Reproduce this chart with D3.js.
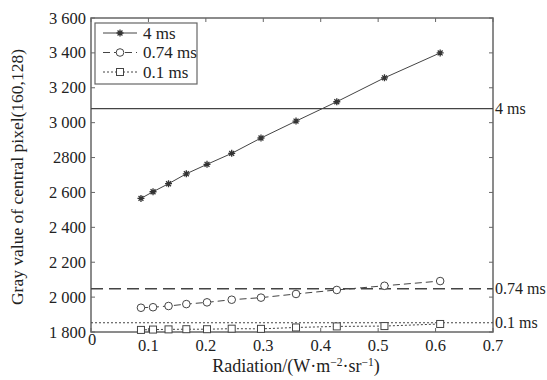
<!DOCTYPE html>
<html><head><meta charset="utf-8">
<script src="https://cdn.jsdelivr.net/npm/d3@7"></script>
<style>body{margin:0;background:#fff}svg{display:block}text{font-family:"Liberation Serif","Times New Roman",serif;fill:#222}</style>
</head><body>
<script>
const radiation = [0.087, 0.108, 0.135, 0.166, 0.202, 0.245, 0.296, 0.357, 0.428, 0.511, 0.608];
const gray4ms   = [2566, 2604, 2650, 2707, 2761, 2824, 2912, 3009, 3120, 3257, 3400];
const gray074ms = [1939, 1942, 1949, 1960, 1970, 1985, 1997, 2018, 2041, 2065, 2092];
const gray01ms  = [1812, 1814, 1815, 1816, 1816, 1819, 1818, 1826, 1832, 1834, 1846];
const refNames  = ["4 ms", "0.74 ms", "0.1 ms"];
const refValues = [3080, 2048, 1853];
const xTicks = [0, 0.1, 0.2, 0.3, 0.4, 0.5, 0.6, 0.7];
const xTickLabels = ["0", "0.1", "0.2", "0.3", "0.4", "0.5", "0.6", "0.7"];
const yTicks = [1800, 2000, 2200, 2400, 2600, 2800, 3000, 3200, 3400, 3600];
const yTickLabels = ["1 800", "2 000", "2 200", "2 400", "2 600", "2800", "3 000", "3 200", "3 400", "3 600"];

const W = 547, H = 380;
const L = 91, R = 493, T = 18, B = 332;
const svg = d3.select("body").append("svg").attr("width", W).attr("height", H);
const x = d3.scaleLinear().domain([0, 0.7]).range([L, R]);
const y = d3.scaleLinear().domain([1800, 3600]).range([B, T]);
const axisColor = "#666", lineColor = "#444";

// frame
svg.append("rect").attr("x", L).attr("y", T).attr("width", R - L).attr("height", B - T)
  .attr("fill", "none").attr("stroke", axisColor).attr("stroke-width", 1.5);

// ticks inward on all sides
const tickLen = 4;
xTicks.forEach((t, i) => {
  svg.append("line").attr("x1", x(t)).attr("x2", x(t)).attr("y1", B).attr("y2", B - tickLen).attr("stroke", axisColor);
  svg.append("line").attr("x1", x(t)).attr("x2", x(t)).attr("y1", T).attr("y2", T + tickLen).attr("stroke", axisColor);
  svg.append("text").attr("x", i === 0 ? x(t) + 1 : x(t)).attr("y", i === 0 ? B + 13 : B + 19)
    .attr("text-anchor", "middle").attr("font-size", 16.5).text(xTickLabels[i]);
});
yTicks.forEach((t, i) => {
  svg.append("line").attr("x1", L).attr("x2", L + tickLen).attr("y1", y(t)).attr("y2", y(t)).attr("stroke", axisColor);
  svg.append("line").attr("x1", R).attr("x2", R - tickLen).attr("y1", y(t)).attr("y2", y(t)).attr("stroke", axisColor);
  svg.append("text").attr("x", L - 5).attr("y", y(t) + 5.5)
    .attr("text-anchor", "end").attr("font-size", 16.5).text(yTickLabels[i]);
});

// reference lines
const refDash = [null, "12,6", "2,2"];
refValues.forEach((v, i) => {
  svg.append("line").attr("x1", L).attr("x2", R).attr("y1", y(v)).attr("y2", y(v))
    .attr("stroke", lineColor).attr("stroke-width", i === 2 ? 1 : 1.3)
    .attr("stroke-dasharray", refDash[i]);
  svg.append("text").attr("x", R + 2).attr("y", y(v) + 5.5).attr("font-size", 16).text(refNames[i]);
});

// series
const series = [
  {name: "4 ms", vals: gray4ms, dash: null, marker: "star"},
  {name: "0.74 ms", vals: gray074ms, dash: "7,4", marker: "circle"},
  {name: "0.1 ms", vals: gray01ms, dash: "2,2", marker: "square"}
];
const line = d3.line().x(d => x(d[0])).y(d => y(d[1]));

function drawMarker(g, type, cx, cy) {
  if (type === "star") {
    const s = 3.5;
    g.append("path").attr("d", `M${cx - s},${cy}H${cx + s}M${cx},${cy - s}V${cy + s}M${cx - s * 0.7},${cy - s * 0.7}L${cx + s * 0.7},${cy + s * 0.7}M${cx - s * 0.7},${cy + s * 0.7}L${cx + s * 0.7},${cy - s * 0.7}`)
      .attr("stroke", "#333").attr("stroke-width", 1.3).attr("fill", "none");
  } else if (type === "circle") {
    g.append("circle").attr("cx", cx).attr("cy", cy).attr("r", 3.8)
      .attr("fill", "#fff").attr("stroke", lineColor).attr("stroke-width", 1);
  } else {
    g.append("rect").attr("x", cx - 3.5).attr("y", cy - 3.5).attr("width", 7).attr("height", 7)
      .attr("fill", "#fff").attr("stroke", lineColor).attr("stroke-width", 1);
  }
}

series.forEach(s => {
  const pts = radiation.map((r, i) => [r, s.vals[i]]);
  svg.append("path").datum(pts).attr("d", line).attr("fill", "none")
    .attr("stroke", lineColor).attr("stroke-width", 1).attr("stroke-dasharray", s.dash);
  const g = svg.append("g");
  pts.forEach(p => drawMarker(g, s.marker, x(p[0]), y(p[1])));
});

// legend
const lg = svg.append("g");
lg.append("rect").attr("x", 95).attr("y", 23).attr("width", 102).attr("height", 61)
  .attr("fill", "#fff").attr("stroke", axisColor).attr("stroke-width", 1.2);
series.forEach((s, i) => {
  const ly = 33 + i * 19.5;
  lg.append("line").attr("x1", 103).attr("x2", 137).attr("y1", ly).attr("y2", ly)
    .attr("stroke", lineColor).attr("stroke-width", 1).attr("stroke-dasharray", s.dash);
  drawMarker(lg, s.marker, 120, ly);
  lg.append("text").attr("x", 143).attr("y", ly + 5.5).attr("font-size", 17).text(s.name);
});

// axis titles
svg.append("text").attr("transform", `translate(23,177) rotate(-90)`)
  .attr("text-anchor", "middle").attr("font-size", 17.5).text("Gray value of central pixel(160,128)");
const xt = svg.append("text").attr("x", 296).attr("y", 372).attr("text-anchor", "middle").attr("font-size", 18);
xt.append("tspan").text("Radiation/(W·m");
xt.append("tspan").attr("dy", -6).attr("font-size", 11.5).text("−2");
xt.append("tspan").attr("dy", 6).text("·sr");
xt.append("tspan").attr("dy", -6).attr("font-size", 11.5).text("−1");
xt.append("tspan").attr("dy", 6).text(")");
</script>
</body></html>
